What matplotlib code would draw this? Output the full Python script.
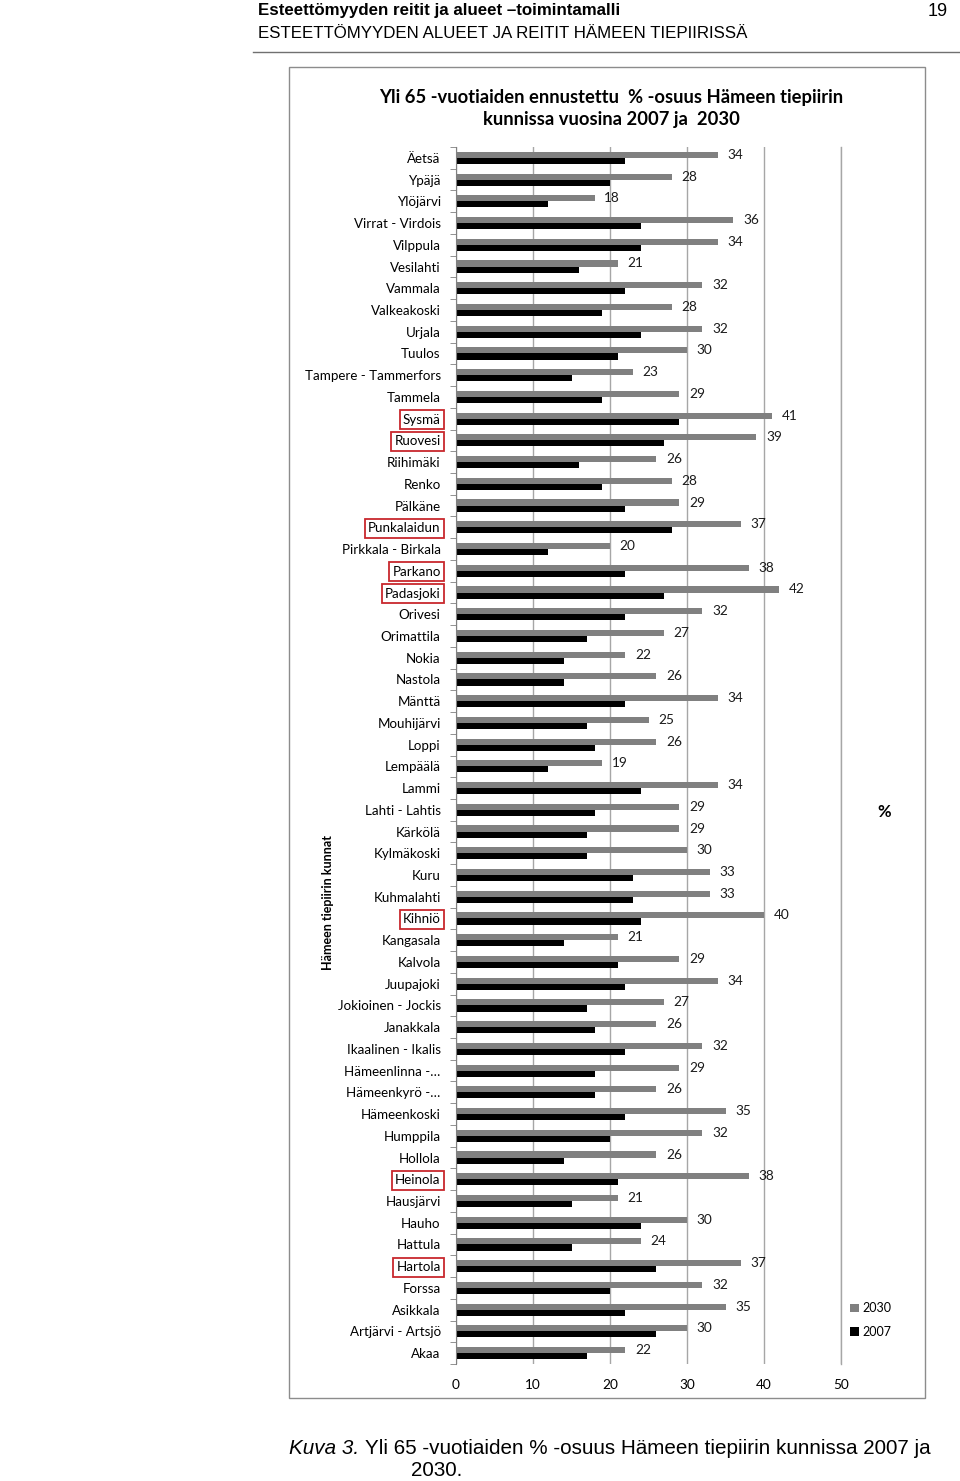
import matplotlib
matplotlib.use("Agg")
import matplotlib.pyplot as plt
from matplotlib.patches import Rectangle
from matplotlib.lines import Line2D
import numpy as np

plt.rcParams['font.family'] = ['Lato', 'DejaVu Sans']

municipalities = [
    "Äetsä", "Ypäjä", "Ylöjärvi", "Virrat - Virdois", "Vilppula", "Vesilahti",
    "Vammala", "Valkeakoski", "Urjala", "Tuulos", "Tampere - Tammerfors",
    "Tammela", "Sysmä", "Ruovesi", "Riihimäki", "Renko", "Pälkäne",
    "Punkalaidun", "Pirkkala - Birkala", "Parkano", "Padasjoki", "Orivesi",
    "Orimattila", "Nokia", "Nastola", "Mänttä", "Mouhijärvi", "Loppi",
    "Lempäälä", "Lammi", "Lahti - Lahtis", "Kärkölä", "Kylmäkoski", "Kuru",
    "Kuhmalahti", "Kihniö", "Kangasala", "Kalvola", "Juupajoki",
    "Jokioinen - Jockis", "Janakkala", "Ikaalinen - Ikalis", "Hämeenlinna -…",
    "Hämeenkyrö -…", "Hämeenkoski", "Humppila", "Hollola", "Heinola",
    "Hausjärvi", "Hauho", "Hattula", "Hartola", "Forssa", "Asikkala",
    "Artjärvi - Artsjö", "Akaa",
]
share_2030 = [
    34, 28, 18, 36, 34, 21, 32, 28, 32, 30, 23, 29, 41, 39, 26, 28, 29, 37,
    20, 38, 42, 32, 27, 22, 26, 34, 25, 26, 19, 34, 29, 29, 30, 33, 33, 40,
    21, 29, 34, 27, 26, 32, 29, 26, 35, 32, 26, 38, 21, 30, 24, 37, 32, 35,
    30, 22,
]
share_2007 = [
    22, 20, 12, 24, 24, 16, 22, 19, 24, 21, 15, 19, 29, 27, 16, 19, 22, 28,
    12, 22, 27, 22, 17, 14, 14, 22, 17, 18, 12, 24, 18, 17, 17, 23, 23, 24,
    14, 21, 22, 17, 18, 22, 18, 18, 22, 20, 14, 21, 15, 24, 15, 26, 20, 22,
    26, 17,
]
highlighted = ["Sysmä", "Ruovesi", "Punkalaidun", "Parkano", "Padasjoki",
               "Kihniö", "Heinola", "Hartola"]
x_ticks = [0, 10, 20, 30, 40, 50]

W, H = 960, 1481
fig = plt.figure(figsize=(W / 100, H / 100), dpi=100)
ARIAL = ['Liberation Sans Narrow', 'Liberation Sans', 'DejaVu Sans']

def fx(px):
    return px / W

def fy(py):
    return 1 - py / H

# Header
fig.text(fx(258), fy(11), "Esteettömyyden reitit ja alueet –toimintamalli",
         family=ARIAL, fontweight='bold', fontsize=12.2, va='center', ha='left')
fig.text(fx(258), fy(33), "ESTEETTÖMYYDEN ALUEET JA REITIT HÄMEEN TIEPIIRISSÄ",
         family=ARIAL, fontsize=12.2, va='center', ha='left')
fig.text(fx(948), fy(11), "19", family=ARIAL, fontsize=13, va='center', ha='right')
fig.add_artist(Line2D([fx(253), fx(960)], [fy(52), fy(52)], color='#707070', lw=1.0))

# Chart frame
fig.add_artist(Rectangle((fx(289), fy(1398)), fx(925) - fx(289), fy(67) - fy(1398),
                         fill=False, edgecolor='#8c8c8c', lw=1.0))

# Title
fig.text(fx(611), fy(98), "Yli 65 -vuotiaiden ennustettu  % -osuus Hämeen tiepiirin",
         fontweight='bold', fontsize=13.2, ha='center', va='center')
fig.text(fx(611), fy(120), "kunnissa vuosina 2007 ja  2030",
         fontweight='bold', fontsize=13.2, ha='center', va='center')

# Axes
ax_l, ax_r, ax_t, ax_b = 456, 841, 147, 1364
ax = fig.add_axes([fx(ax_l), fy(ax_b), fx(ax_r) - fx(ax_l), fy(ax_t) - fy(ax_b)])

n = len(municipalities)
y = np.arange(n)
h = 0.28
ax.barh(y - h / 2, share_2030, height=h, color='#808080', label='2030', zorder=3)
ax.barh(y + h / 2, share_2007, height=h, color='#000000', label='2007', zorder=3)

for yi, v in zip(y, share_2030):
    ax.annotate(str(v), (v, yi - h / 2), xytext=(7, 0), textcoords='offset points',
                ha='left', va='center', fontsize=9.8, color='#1a1a1a')

ax.set_xlim(0, 50)
ax.set_ylim(n - 0.5, -0.5)
ax.set_xticks(x_ticks)
ax.set_xticklabels([str(t) for t in x_ticks], fontsize=9.8)
ax.tick_params(axis='x', length=0, pad=11)
ax.set_yticks(y)
ax.set_yticklabels(municipalities, fontsize=9.6)
ax.tick_params(axis='y', which='major', length=0, pad=11)
ax.set_yticks(np.arange(-0.5, n, 1), minor=True)
ax.tick_params(axis='y', which='minor', length=4, direction='out', color='#808080')
ax.grid(axis='x', color='#a6a6a6', lw=1.0, zorder=0)
ax.axvline(50, color='#a6a6a6', lw=1.0, zorder=0, clip_on=False)
for s in ['top', 'right', 'bottom']:
    ax.spines[s].set_visible(False)
ax.spines['left'].set_color('#808080')
ax.spines['left'].set_zorder(4)

for lab in ax.get_yticklabels():
    if lab.get_text() in highlighted:
        lab.set_bbox(dict(boxstyle='square,pad=0.25', fc='none', ec='#c8282d', lw=1.3))

# Y axis title
fig.text(fx(328), fy(903), "Hämeen tiepiirin kunnat", rotation=90, fontweight='bold',
         fontsize=9, ha='center', va='center')
# Percent sign
fig.text(fx(884), fy(812), "%", fontweight='bold', fontsize=12, ha='center', va='center')

# Legend
handles, labels = ax.get_legend_handles_labels()
fig.legend(handles, labels, loc='center left',
           bbox_to_anchor=(fx(844), fy(1320)), frameon=False, fontsize=9,
           handlelength=0.7, handleheight=0.7, handletextpad=0.3,
           labelspacing=0.9, borderpad=0)

# Caption
t1 = fig.text(fx(289), fy(1448), "Kuva 3.", fontstyle='italic', family=ARIAL,
              fontsize=14.9, ha='left', va='center')
fig.canvas.draw()
bb = t1.get_window_extent(renderer=fig.canvas.get_renderer())
x_end = bb.x1 / W
fig.text(x_end + fx(6), fy(1448),
         "Yli 65 -vuotiaiden % -osuus Hämeen tiepiirin kunnissa 2007 ja",
         family=ARIAL, fontsize=14.9, ha='left', va='center')
fig.text(fx(411), fy(1471), "2030.", family=ARIAL, fontsize=14.9, ha='left', va='center')

fig.savefig("out.png", dpi=100)
